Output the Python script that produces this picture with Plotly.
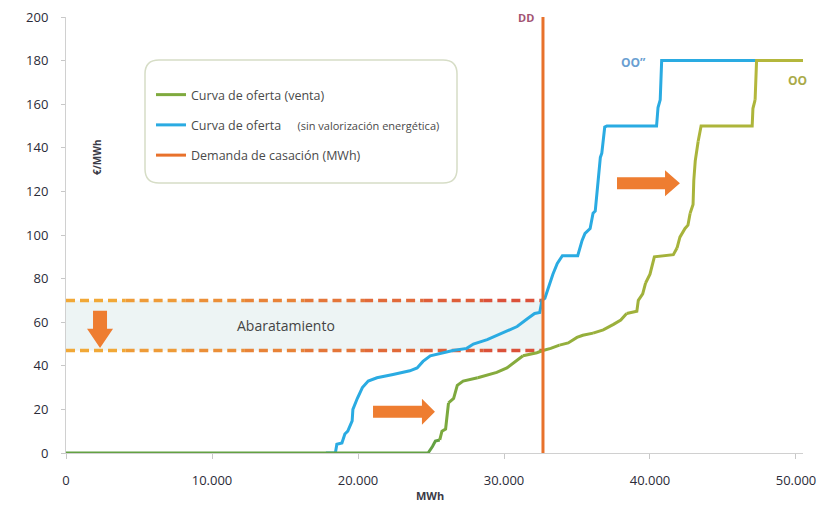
import plotly.graph_objects as go

# ---------------- data ----------------
x_tick_vals = [0, 10000, 20000, 30000, 40000, 50000]
x_tick_text = ["0", "10.000", "20.000", "30.000", "40.000", "50.000"]
y_tick_vals = [0, 20, 40, 60, 80, 100, 120, 140, 160, 180, 200]

# Curva de oferta (venta)  -> OO
oferta_x = [0, 24800, 25100, 25300, 25600, 25750, 26000, 26100, 26200, 26550, 26800,
            27200, 28200, 29500, 30200, 30600, 31300, 32250, 32670, 33200, 33800,
            34400, 35000, 35400, 36100, 36800, 37500, 38000, 38400, 39100, 39200,
            39500, 39700, 40000, 40300, 41600, 41850, 42050, 42400, 42600, 42750,
            42950, 43000, 43100, 43300, 43500, 47000, 47050, 47200, 47300, 50800]
oferta_y = [0, 0, 3, 5.5, 6, 10, 11, 16, 23, 25, 31,
            33, 34.5, 37, 39, 41, 44.6, 46, 47, 48, 49.5,
            50.5, 53, 54, 55, 56.5, 59, 61, 64, 65, 70,
            73, 78, 82, 90, 91, 94, 99, 103, 104.5, 110,
            114, 125, 134, 143, 150, 150, 158, 162, 180, 180]

# Curva de oferta (sin valorización energética) -> OO''
sinval_x = [17800, 18450, 18550, 18900, 19100, 19300, 19600, 19650, 19950, 20300,
            20700, 21300, 22400, 23550, 24050, 24450, 24950, 25800, 26500, 27450,
            27900, 28850, 29500, 30200, 30900, 31600, 32100, 32450, 32600, 32800,
            32950, 33150, 33350, 33650, 34000, 35050, 35350, 35550, 35900, 36100,
            36250, 36450, 36600, 36700, 36800, 36900, 37050, 40450, 40550, 40700,
            40800, 47300]
sinval_y = [0, 0, 4, 4.6, 8.7, 10, 14.7, 20, 25, 30,
            33, 34.5, 36, 37.7, 39, 42, 44.6, 46, 47, 48,
            50, 52, 54, 56, 58, 61.6, 64, 64.5, 70, 71,
            74, 79, 82, 87, 90.5, 90.5, 97.5, 100.7, 103, 110,
            111, 125, 135.6, 137.5, 143, 149.5, 150, 150, 158.5, 162,
            180, 180]

# Demanda de casación -> DD
demanda_x = [32670, 32670]
demanda_y = [0, 200]

precio_antes = 70      # upper dashed level
precio_despues = 47    # lower dashed level

series_names = [
    "Curva de oferta (venta)",
    "Curva de oferta&nbsp;&nbsp;&nbsp;&nbsp;&nbsp;<span style='font-size:11px'>(sin valorización energética)</span>",
    "Demanda de casación (MWh)",
]

# ---------------- styling helpers ----------------
# page body adds an 8px offset, so the figure is 8px smaller than the window
OFF = 8
X_MAX = 50480
Y_MAX = 200
PLOT_W = 737
PLOT_H = 436
KX = X_MAX / PLOT_W   # data units per pixel
KY = Y_MAX / PLOT_H
L, T = 66, 17         # plot-area origin in window pixels
B_PX = T + PLOT_H     # window y of the x-axis

FONT = "Open Sans"
BLUE = "#2AABE2"
ORANGE = "#E8712B"
ARROW = "#EE7D31"


def hex2rgb(h):
    h = h.lstrip("#")
    return tuple(int(h[i:i + 2], 16) for i in (0, 2, 4))


def lerp_color(stops, t):
    for (t0, c0), (t1, c1) in zip(stops, stops[1:]):
        if t <= t1:
            f = 0 if t1 == t0 else (t - t0) / (t1 - t0)
            a, b = hex2rgb(c0), hex2rgb(c1)
            return "rgb(%d,%d,%d)" % tuple(round(a[i] + (b[i] - a[i]) * f) for i in range(3))
    a = hex2rgb(stops[-1][1])
    return "rgb(%d,%d,%d)" % a


def px_x(px):
    return (px - L) * KX


def px_y(py):
    return (B_PX - py) * KY


def paper_y(py):
    return (B_PX - py) / PLOT_H


green_stops = [(0, "#4C9A48"), (25000, "#78A83E"), (40000, "#A3B23B"), (51000, "#B8B83C")]

fig = go.Figure()

# blue curve
fig.add_trace(go.Scatter(x=sinval_x, y=sinval_y, mode="lines", name=series_names[1],
                         line=dict(color=BLUE, width=3), legendgroup="b", legendrank=2,
                         hoverinfo="skip"))

# green curve in gradient chunks
CH = 4
for i in range(0, len(oferta_x) - 1, CH):
    xs = oferta_x[i:i + CH + 1]
    ys = oferta_y[i:i + CH + 1]
    col = lerp_color(green_stops, (xs[0] + xs[-1]) / 2)
    fig.add_trace(go.Scatter(x=xs, y=ys, mode="lines", name=series_names[0],
                             line=dict(color=col, width=3), legendgroup="g",
                             showlegend=False, hoverinfo="skip"))
# legend entry for green
fig.add_trace(go.Scatter(x=[None], y=[None], mode="lines", name=series_names[0],
                         line=dict(color="#7FAA3E", width=3), legendgroup="g", legendrank=1))

# demand line
fig.add_trace(go.Scatter(x=demanda_x, y=demanda_y, mode="lines", name=series_names[2],
                         line=dict(color=ORANGE, width=3), legendgroup="d", legendrank=3,
                         hoverinfo="skip"))

shapes = []
# shaded band between the two price levels
shapes.append(dict(type="rect", xref="x", yref="y", x0=0, x1=demanda_x[0],
                   y0=precio_despues, y1=precio_antes, fillcolor="#EDF4F4",
                   line=dict(width=0), layer="below"))
# dashed gradient lines
NSEG = 8
for lvl in (precio_antes, precio_despues):
    for k in range(NSEG):
        x0 = demanda_x[0] * k / NSEG
        x1 = demanda_x[0] * (k + 1) / NSEG
        col = lerp_color([(0, "#F3AE37"), (1, "#D94B3A")], (k + 0.5) / NSEG)
        shapes.append(dict(type="line", xref="x", yref="y", x0=x0, x1=x1, y0=lvl, y1=lvl,
                           line=dict(color=col, width=3.5, dash="9px,5px"), layer="below"))


def right_arrow(x_tail, x_neck, x_tip, yc, body_px=6, head_px=13):
    b, h = body_px * KY, head_px * KY
    return ("M%f,%f L%f,%f L%f,%f L%f,%f L%f,%f L%f,%f L%f,%f Z" %
            (x_tail, yc - b, x_neck, yc - b, x_neck, yc - h, x_tip, yc,
             x_neck, yc + h, x_neck, yc + b, x_tail, yc + b))


def down_arrow(xc, y_tail, y_neck, y_tip, body_px=7, head_px=13):
    b, h = body_px * KX, head_px * KX
    return ("M%f,%f L%f,%f L%f,%f L%f,%f L%f,%f L%f,%f L%f,%f Z" %
            (xc - b, y_tail, xc - b, y_neck, xc - h, y_neck, xc, y_tip,
             xc + h, y_neck, xc + b, y_neck, xc + b, y_tail))


arrow_right = [(21030, 24380, 25270, 18.9), (37740, 41030, 42050, 123.7)]
for a in arrow_right:
    shapes.append(dict(type="path", xref="x", yref="y", path=right_arrow(*a),
                       fillcolor=ARROW, line=dict(width=0)))
shapes.append(dict(type="path", xref="x", yref="y", path=down_arrow(2330, 65.3, 57, 48.2),
                   fillcolor=ARROW, line=dict(width=0)))

# rounded legend box
bx0, bx1 = px_x(145), px_x(457)
by0, by1 = px_y(183), px_y(60)
rx, ry = 14 * KX, 14 * KY
path = ("M%f,%f L%f,%f Q%f,%f %f,%f L%f,%f Q%f,%f %f,%f L%f,%f Q%f,%f %f,%f L%f,%f Q%f,%f %f,%f Z" %
        (bx0 + rx, by0, bx1 - rx, by0, bx1, by0, bx1, by0 + ry,
         bx1, by1 - ry, bx1, by1, bx1 - rx, by1,
         bx0 + rx, by1, bx0, by1, bx0, by1 - ry,
         bx0, by0 + ry, bx0, by0, bx0 + rx, by0))
shapes.append(dict(type="path", xref="x", yref="y", path=path, fillcolor="rgba(0,0,0,0)",
                   line=dict(color="#D6DDC6", width=1.5), layer="below"))

C = dict(xanchor="center", yanchor="middle", showarrow=False)
annotations = [
    dict(x=px_x(286), y=58.3, text="Abaratamiento",
         font=dict(family=FONT, size=14, color="#444444"), **C),
    dict(x=px_x(97), y=px_y(157), text="<b>€/MWh</b>", textangle=-90,
         font=dict(family=FONT, size=10, color="#3A3A46"), **C),
    dict(x=px_x(526), xref="x", y=paper_y(17), yref="paper", text="<b>DD</b>",
         font=dict(family=FONT, size=11, color="#A25472"), **C),
    dict(x=px_x(633), y=px_y(62), text="<b>OO\u201d</b>",
         font=dict(family=FONT, size=12, color="#6A9FD2"), **C),
    dict(x=px_x(797), y=px_y(80), text="<b>OO</b>",
         font=dict(family=FONT, size=12, color="#A9AA48"), **C),
    dict(x=px_x(430), xref="x", y=paper_y(496), yref="paper", text="<b>MWh</b>",
         font=dict(family=FONT, size=11, color="#3A3A46"), **C),
]

W, H = 829 - OFF, 506 - OFF
fig.update_layout(
    width=W, height=H,
    margin=dict(l=L - OFF, r=W - (L - OFF) - PLOT_W, t=T - OFF, b=H - (T - OFF) - PLOT_H),
    paper_bgcolor="white", plot_bgcolor="white",
    font=dict(family=FONT, size=12, color="#33333F"),
    shapes=shapes, annotations=annotations,
    showlegend=True,
    legend=dict(x=(151 - L) / PLOT_W, y=paper_y(80), xanchor="left", yanchor="top",
                bgcolor="rgba(0,0,0,0)", itemwidth=30, tracegroupgap=11,
                font=dict(family=FONT, size=12.5, color="#4A4A4A"), traceorder="grouped"),
    xaxis=dict(range=[0, X_MAX], tickvals=x_tick_vals, ticktext=x_tick_text, automargin=False,
               showgrid=False, zeroline=False, showline=True, linecolor="#D0D0D0",
               ticks="outside", ticklen=5, tickcolor="#C8C8C8", ticklabelstandoff=10,
               ticklabeloverflow="allow",
               tickfont=dict(family=FONT, size=13, color="#2B2B38")),
    yaxis=dict(range=[0, Y_MAX], tickvals=y_tick_vals, automargin=False,
               showgrid=False, zeroline=False, showline=True, linecolor="#D0D0D0",
               ticks="outside", ticklen=4, tickcolor="#C8C8C8", ticklabelstandoff=10,
               ticklabeloverflow="allow",
               tickfont=dict(family=FONT, size=13, color="#2B2B38")),
)

fig.write_html("out.html")
